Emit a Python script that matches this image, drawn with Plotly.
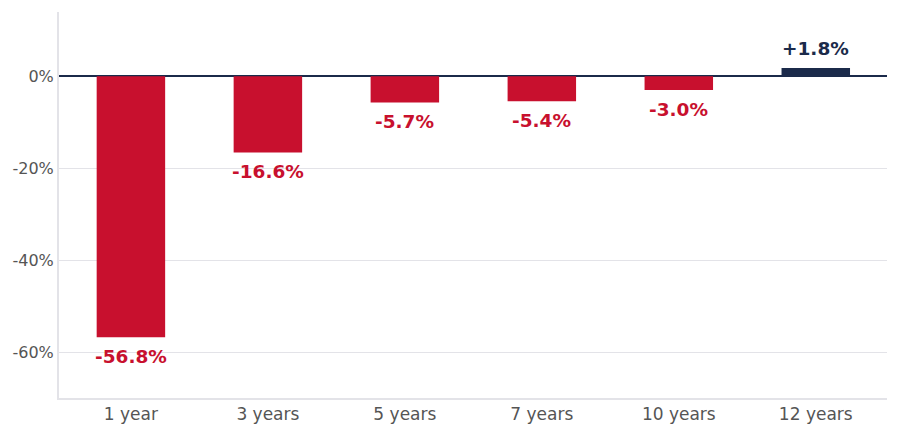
import plotly.graph_objects as go

periods = ['1 year', '3 years', '5 years', '7 years', '10 years', '12 years']
returns = [-56.8, -16.6, -5.7, -5.4, -3.0, 1.8]
y_ticks = [-60, -40, -20, 0]
y_tick_labels = ['-60%', '-40%', '-20%', '0%']

RED = '#c8102e'
NAVY = '#1b2a4a'

colors = [NAVY if v >= 0 else RED for v in returns]
labels = [f'{v:+.1f}%' for v in returns]

fig = go.Figure(
    go.Bar(
        x=periods,
        y=returns,
        marker=dict(color=colors, line=dict(width=0)),
        width=0.5,
        hoverinfo='skip',
    )
)

# value labels sit a little further off the bar ends than plotly's own outside text
for period, value, label, color in zip(periods, returns, labels, colors):
    fig.add_annotation(
        x=period,
        y=value,
        text=label,
        showarrow=False,
        yanchor='middle',
        yshift=20 if value >= 0 else -19,
        font=dict(family='DejaVu Sans', size=18.5, color=color, weight='bold'),
    )

fig.update_layout(
    width=899,
    height=431,
    margin=dict(l=59, r=12, t=12, b=33),
    plot_bgcolor='white',
    paper_bgcolor='white',
    showlegend=False,
    font=dict(family='DejaVu Sans', size=16, color='#555555'),
)
fig.update_xaxes(
    range=[-0.525, 5.52],
    automargin=False,
    showgrid=False,
    showline=True,
    linecolor='#e3e3e8',
    linewidth=2,
    ticks='',
    tickfont=dict(size=17, color='#555555'),
)
fig.update_yaxes(
    range=[-70, 14],
    automargin=False,
    tickmode='array',
    tickvals=y_ticks,
    ticktext=y_tick_labels,
    showgrid=True,
    gridcolor='#e3e3e8',
    gridwidth=1,
    zeroline=True,
    zerolinecolor=NAVY,
    zerolinewidth=2,
    showline=True,
    linecolor='#e3e3e8',
    linewidth=2,
    tickfont=dict(size=16, color='#555555'),
)

# drop the default page margin so the figure sits flush in the window
fig.write_html(
    'out.html',
    config={'displayModeBar': False},
    post_script="document.body.style.margin='0';",
)
